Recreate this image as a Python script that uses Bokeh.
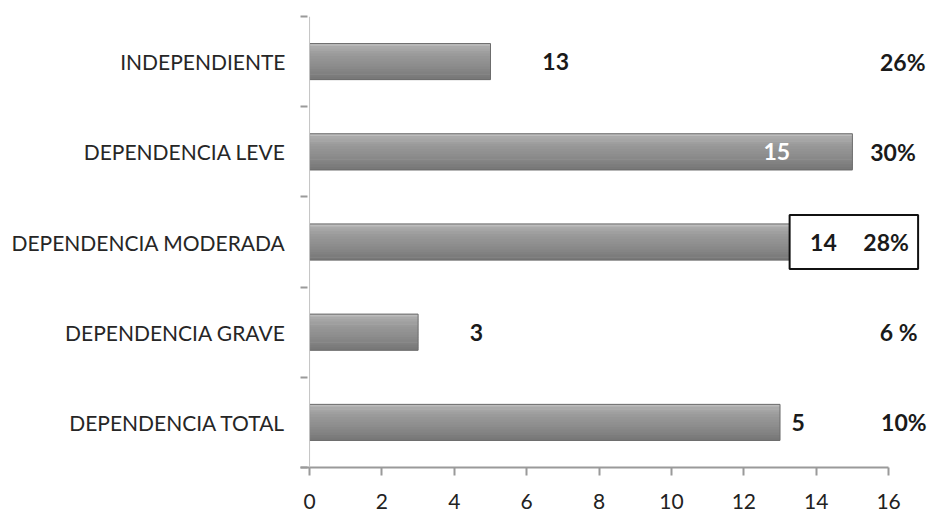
from bokeh.plotting import figure
from bokeh.models import Range1d, FixedTicker, Span, ColumnDataSource
from bokeh.core.properties import value
from bokeh.embed import file_html
from bokeh.resources import INLINE

# Data
categories = ["INDEPENDIENTE", "DEPENDENCIA LEVE", "DEPENDENCIA MODERADA",
              "DEPENDENCIA GRAVE", "DEPENDENCIA TOTAL"]
bar_values = [5, 15, 14, 3, 13]
count_labels = ["13", "15", "14", "3", "5"]
percent_labels = ["26%", "30%", "28%", "6 %", "10%"]
x_ticks = [0, 2, 4, 6, 8, 10, 12, 14, 16]

# Layout of the annotation texts (x in axis units)
count_x = [6.80, 12.91, 14.20, 4.61, 13.50]
count_colors = ["#1a1a1a", "#ffffff", "#1a1a1a", "#1a1a1a", "#1a1a1a"]
percent_x = [17.02, 16.75, 16.56, 16.80, 17.05]

FONT = "Lato"
n = len(categories)
ypos = [n - i - 0.5 for i in range(n)]
bar_h = 0.40

p = figure(width=929, height=511,
           x_range=Range1d(-0.25, 17.13), y_range=Range1d(0, 5),
           min_border_left=300, min_border_right=0,
           min_border_top=16, min_border_bottom=44,
           output_backend="svg", toolbar_location=None)
p.outline_line_color = None
p.xgrid.visible = False
p.ygrid.visible = False
p.background_fill_color = "white"
p.border_fill_color = "white"

# Vertical category axis line at zero
p.add_layout(Span(location=0, dimension="height", line_color="#c4c4c4", line_width=1))

# Bevelled bars: stacked horizontal slices shaded from light top to dark bottom
stops = [(0.0, (0xc8, 0xc8, 0xc8)), (0.08, (0xac, 0xac, 0xac)), (0.35, (0x98, 0x98, 0x98)),
         (0.65, (0x8b, 0x8b, 0x8b)), (1.0, (0x76, 0x76, 0x76))]

def shade(t):
    for (t0, c0), (t1, c1) in zip(stops[:-1], stops[1:]):
        if t0 <= t <= t1:
            f = (t - t0) / (t1 - t0) if t1 > t0 else 0
            c = [round(a + (b - a) * f) for a, b in zip(c0, c1)]
            return "#%02x%02x%02x" % tuple(c)
    return "#%02x%02x%02x" % stops[-1][1]

slices = 14
for k in range(slices):
    tm = (k + 0.5) / slices
    ys = [y + bar_h / 2 - tm * bar_h for y in ypos]
    p.hbar(y=ys, left=0, right=bar_values, height=bar_h / slices * 1.25,
           fill_color=shade(tm), line_color=None)

p.hbar(y=ypos, left=0, right=bar_values, height=bar_h,
       fill_color=None, line_color="#6c6c6c", line_width=1)

# Boxed label for the moderate-dependence row
p.rect(x=[15.04], y=[ypos[2]], width=3.55, height=0.60,
       fill_color="white", line_color="#111111", line_width=2)

src = ColumnDataSource(dict(cx=count_x, px=percent_x, y=ypos,
                            c=count_labels, pc=percent_labels, col=count_colors))
p.text(x="cx", y="y", text="c", source=src, text_align="center",
       text_baseline="middle", text_font=value(FONT), text_font_style="bold",
       text_font_size="23px", text_color="col")
p.text(x="px", y="y", text="pc", source=src, text_align="right",
       text_baseline="middle", text_font=value(FONT), text_font_style="bold",
       text_font_size="23px", text_color="#1a1a1a")

# Category axis: labels at row centres, tick marks between rows
ya = p.yaxis[0]
ya.ticker = FixedTicker(ticks=ypos, minor_ticks=[0, 1, 2, 3, 4, 5])
ya.major_label_overrides = {y: c for y, c in zip(ypos, categories)}
ya.major_tick_line_color = None
ya.major_tick_in = 0
ya.major_tick_out = 0
ya.minor_tick_in = 7
ya.minor_tick_out = 0
ya.minor_tick_line_color = "#9a9a9a"
ya.minor_tick_line_width = 2
ya.axis_line_color = None
ya.major_label_standoff = 15
ya.major_label_text_font = FONT
ya.major_label_text_font_size = "21px"
ya.major_label_text_color = "#262626"

xa = p.xaxis[0]
xa.bounds = (-0.25, 16)
xa.ticker = FixedTicker(ticks=x_ticks)
xa.axis_line_color = "#9a9a9a"
xa.axis_line_width = 2
xa.major_tick_in = 0
xa.major_tick_out = 8
xa.major_tick_line_color = "#9a9a9a"
xa.major_tick_line_width = 2
xa.minor_tick_line_color = None
xa.major_label_standoff = 18
xa.major_label_text_font = FONT
xa.major_label_text_font_size = "21px"
xa.major_label_text_color = "#222222"

open("out.html", "w").write(file_html(p, INLINE))
